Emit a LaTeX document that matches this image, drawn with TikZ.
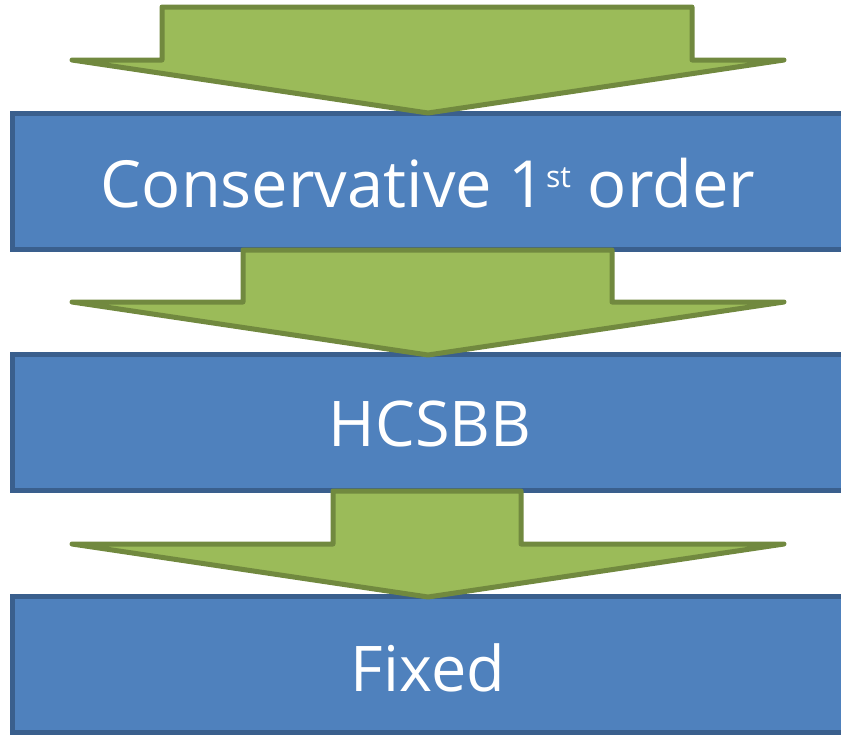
\documentclass[tikz,border=0pt]{standalone}
\usepackage{fontspec}
\setmainfont{Open Sans}
\definecolor{boxfill}{HTML}{4F81BD}
\definecolor{boxline}{HTML}{3A5F8D}
\definecolor{arrfill}{HTML}{9BBB59}
\definecolor{arrline}{HTML}{71893F}
\tikzset{
  stagebox/.style={draw=boxline, fill=boxfill, line width=5pt, rectangle, minimum width=832pt, minimum height=136pt, inner sep=0pt, outer sep=0pt},
  stagetext/.style={text=white, anchor=base, inner sep=0pt, font=\fontsize{63}{63}\selectfont},
  downarrow/.style={draw=arrline, fill=arrfill, line width=5pt, line join=round, line cap=round}
}
\begin{document}
\begin{tikzpicture}[x=1pt,y=-1pt]
\useasboundingbox (0,0) rectangle (841,736);
\clip (0,0) rectangle (841,736);
% boxes
\node[stagebox] (b1) at (428,181) {};
\node[stagebox] (b2) at (428,422.5) {};
\node[stagebox] (b3) at (428,664.5) {};
% arrows
\coordinate (t1) at (428,113);
\coordinate (t2) at (428,355);
\coordinate (t3) at (428,597);
\draw[downarrow] (162,7) -- (692,7) -- (692,60) -- (784,60) -- (t1) -- (72,60) -- (162,60) -- cycle;
\draw[downarrow] (243,250) -- (612,250) -- (612,302) -- (784,302) -- (t2) -- (72,302) -- (243,302) -- cycle;
\draw[downarrow] (333,491) -- (521,491) -- (521,544) -- (784,544) -- (t3) -- (72,544) -- (333,544) -- cycle;
% texts
\node[stagetext, font=\fontsize{65}{65}\selectfont] (l1) at (428,207) {Conservative 1\raisebox{20pt}{\fontsize{30}{30}\selectfont st} order};
\node[stagetext] (l2) at (430,446) {HCSBB};
\node[stagetext] (l3) at (428,691) {Fixed};
\end{tikzpicture}
\end{document}
